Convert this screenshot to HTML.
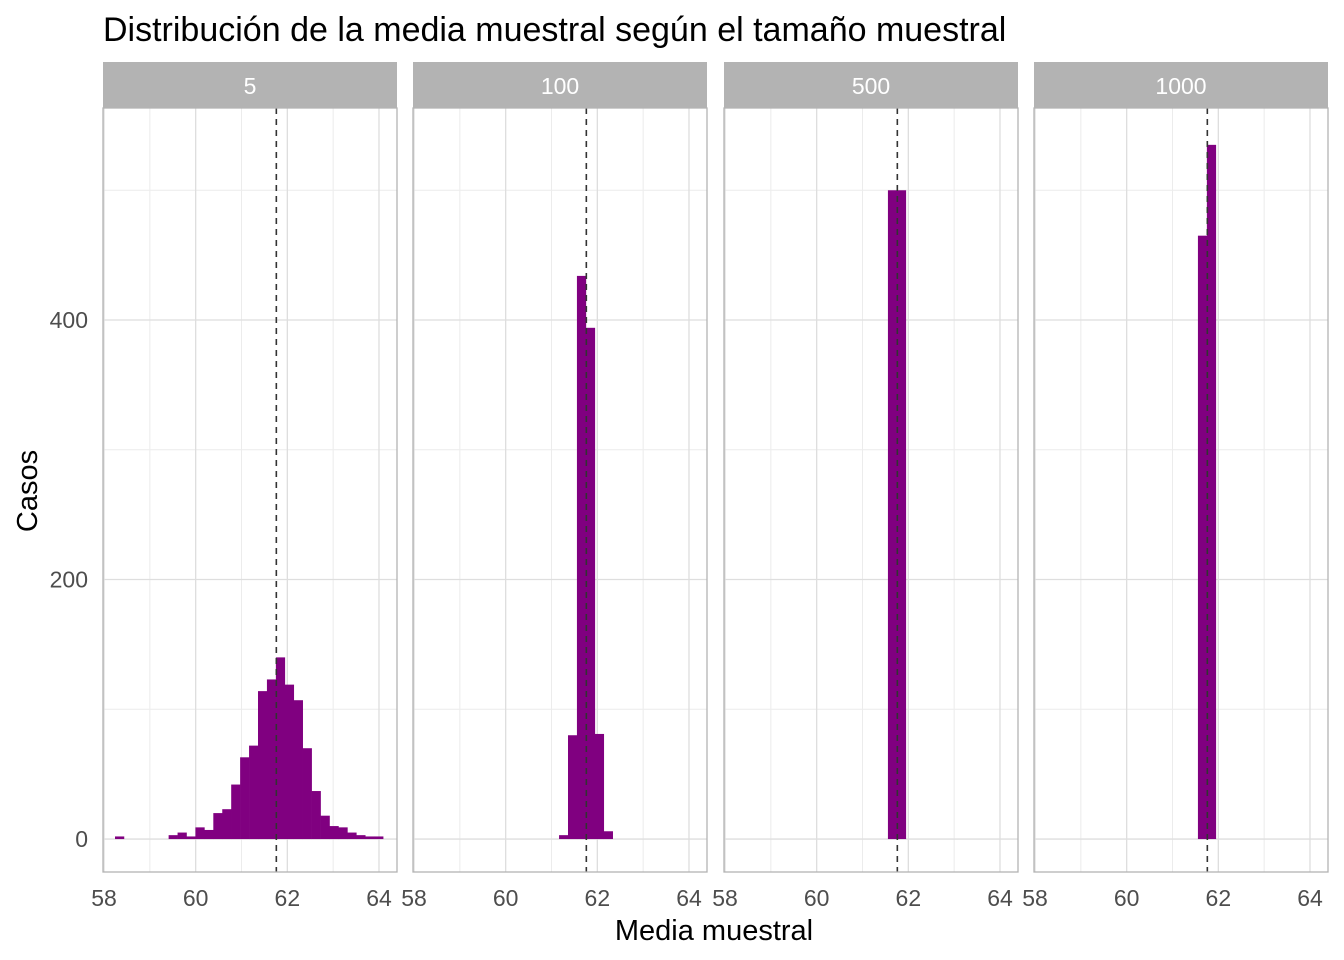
<!DOCTYPE html>
<html><head><meta charset="utf-8"><style>
body{margin:0;background:#fff;}
svg{display:block;font-family:"Liberation Sans",Arial,sans-serif;}
</style></head><body>
<svg id="c" width="1344" height="960">
<text x="103" y="41" font-size="34" fill="#000">Distribución de la media muestral según el tamaño muestral</text>
<text x="714" y="940" font-size="29" fill="#000" text-anchor="middle">Media muestral</text>
<text transform="translate(37,491) rotate(-90)" font-size="29" fill="#000" text-anchor="middle">Casos</text>
</svg>
<script>
const facetLabels = ["5","100","500","1000"];
const binStart = 58.24;
const binWidth = 0.195;
const counts5 = [2,0,0,0,0,0,3,5,2,9,7,20,23,42,63,72,114,123,140,119,107,70,37,18,10,9,5,3,2,2];
const counts100 = {15:3,16:80,17:434,18:394,19:81,20:6};
const counts500 = {17:500,18:500};
const counts1000 = {17:465,18:535};
const meanValue = 61.76;
const xTicks = [58,60,62,64];
const yTicks = [0,200,400];
const yMinor = [100,300,500];
const xMinor = [59,61,63];

const svg = document.getElementById('c');
const NS = 'http://www.w3.org/2000/svg';
function mk(t, a){const e=document.createElementNS(NS,t);for(const k in a)e.setAttribute(k,a[k]);svg.appendChild(e);return e;}
const panelLefts = [103,413,724,1034];
const panelW = 294, pTop = 108, pBottom = 872;
const xMin = 57.978, xMax = 64.393, yMin = -25.4, yMax = 563.4;
function sx(i,v){return panelLefts[i] + (v - xMin)/(xMax - xMin)*panelW;}
function sy(v){return pBottom - (v - yMin)/(yMax - yMin)*(pBottom - pTop);}
const allCounts = [counts5, counts100, counts500, counts1000];

yTicks.forEach(t=>{
  const e = mk('text',{x:88,y:sy(t)+8,'font-size':23,fill:'#4d4d4d','text-anchor':'end'});
  e.textContent = t;
  
  
});

facetLabels.forEach((lab,i)=>{
  const L = panelLefts[i];
  const strip = mk('rect',{x:L,y:62,width:panelW,height:46,fill:'#b3b3b3'});
  
  
  const st = mk('text',{x:L+panelW/2,y:94,'font-size':23,fill:'#fff','text-anchor':'middle'});
  st.textContent = lab;
  
  
  yMinor.forEach(t=>{const g=mk('line',{x1:L,x2:L+panelW,y1:sy(t),y2:sy(t),stroke:'#ececec','stroke-width':1});});
  xMinor.forEach(t=>{const g=mk('line',{x1:sx(i,t),x2:sx(i,t),y1:pTop,y2:pBottom,stroke:'#ececec','stroke-width':1});});
  yTicks.forEach(t=>{const g=mk('line',{x1:L,x2:L+panelW,y1:sy(t),y2:sy(t),stroke:'#dedede','stroke-width':1.3});});
  xTicks.forEach(t=>{const g=mk('line',{x1:sx(i,t),x2:sx(i,t),y1:pTop,y2:pBottom,stroke:'#dedede','stroke-width':1.3});});
  const c = allCounts[i];
  Object.keys(c).forEach(k=>{
    const idx = +k, v = c[k];
    if(!v) return;
    const x0 = sx(i, binStart + idx*binWidth), x1 = sx(i, binStart + (idx+1)*binWidth);
    const r = mk('rect',{x:x0,y:sy(v),width:x1-x0+0.3,height:sy(0)-sy(v),fill:'#800080'});
    
    
  });
  const m = mk('line',{x1:sx(i,meanValue),x2:sx(i,meanValue),y1:pTop,y2:pBottom,stroke:'#333','stroke-width':1.6,'stroke-dasharray':'6,5'});
  
  
  const b = mk('rect',{x:L,y:pTop,width:panelW,height:pBottom-pTop,fill:'none',stroke:'#b3b3b3','stroke-width':1.3});
  
  
  xTicks.forEach(t=>{
    const e = mk('text',{x:sx(i,t),y:906,'font-size':23,fill:'#4d4d4d','text-anchor':'middle'});
    e.textContent = t;
    
    
  });
});
</script>
</body></html>
